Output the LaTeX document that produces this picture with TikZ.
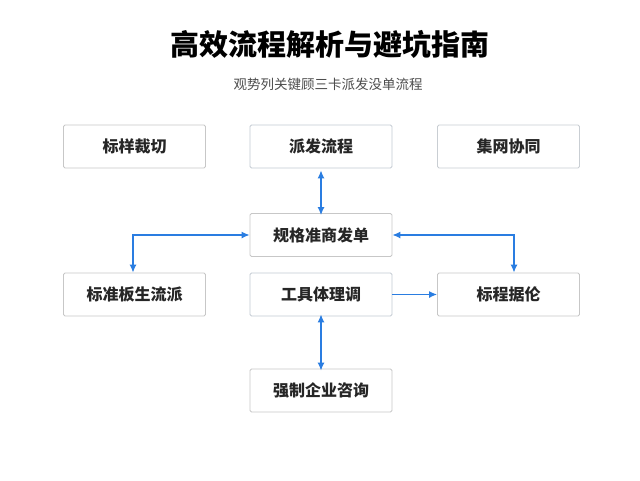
\documentclass[tikz,border=0pt]{standalone}
\usepackage{fontspec}
\newfontfamily\cjk{Noto Sans CJK SC}
\usetikzlibrary{arrows.meta}
\definecolor{ablue}{HTML}{2A7DE1}
\begin{document}
\begin{tikzpicture}[x=1pt,y=-1pt,
 box/.style={draw=#1,line width=0.8pt,rounded corners=1.5pt,fill=white,minimum width=142pt,minimum height=43pt,font=\cjk\bfseries\fontsize{16}{18}\selectfont,text=black!85},
 box/.default={black!22},
 arr/.style={draw=ablue,line width=1.3pt,-{Latex[length=8pt,width=7pt]}},
 barr/.style={arr,{Latex[length=8pt,width=7pt]}-{Latex[length=8pt,width=7pt]}}]
\useasboundingbox (0,0) rectangle (640,480);
\fill[white] (0,0) rectangle (640,480);
\node[font=\cjk\bfseries\fontsize{29}{32}\selectfont] (title) at (330,44) {高效流程解析与避坑指南};
\node[font=\cjk\fontsize{13.5}{15}\selectfont,text=black!70] (sub) at (328,84) {观势列关键顾三卡派发没单流程};
\node[box] (a) at (134.5,146.5) {标样裁切};
\node[box={ablue!35!black!25}] (b) at (321,146.5) {派发流程};
\node[box={ablue!25!black!22}] (c) at (508.5,146.5) {集网协同};
\node[box] (m) at (321,235) {规格准商发单};
\node[box] (d) at (134.5,294.5) {标准板生流派};
\node[box={ablue!35!black!25}] (e) at (321,294.5) {工具体理调};
\node[box] (f) at (508.5,294.5) {标程据伦};
\node[box] (g) at (321,390.5) {强制企业咨询};
\draw[barr] (b.south) ++(0,2) -- ([yshift=-2pt]m.north);
\draw[barr] (d.north -| 133,0) |- (m.west);
\draw[barr] (m.east) -| (f.north -| 514,0);
\draw[arr] (e.east) -- (f.west);
\draw[barr] ([yshift=2pt]e.south) -- ([yshift=-2pt]g.north);
\end{tikzpicture}
\end{document}
